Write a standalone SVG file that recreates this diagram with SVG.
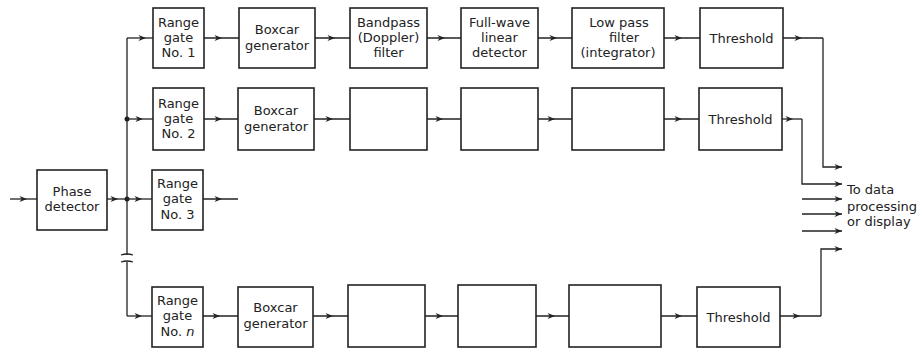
<svg xmlns="http://www.w3.org/2000/svg" width="917" height="349" viewBox="0 0 917 349">
<style>
.box{fill:#fff;stroke:#222;stroke-width:1.6}
.ln{fill:none;stroke:#222;stroke-width:1.3}
.mid{fill:none;stroke:#222;stroke-width:1.3;marker-mid:url(#ah)}
.end{fill:none;stroke:#222;stroke-width:1.3;marker-end:url(#ah)}
text{font-family:"DejaVu Sans","Liberation Sans",sans-serif;font-size:13px;fill:#222;text-anchor:middle}
text.r{text-anchor:start}
</style>
<defs>
<marker id="ah" viewBox="0 0 10 8" refX="10" refY="4" markerWidth="9" markerHeight="6" markerUnits="userSpaceOnUse" orient="auto">
<path d="M0,0 L10,4 L0,8 L3,4 Z" fill="#222"/>
</marker>
</defs>
<rect width="917" height="349" fill="#fff"/>

<g id="connectors">
<path class="ln" d="M127,38 V255 M127,262 V316"/>
<path class="ln" d="M121,255 Q127,253 133,255 M121,262 Q127,260 133,262"/>
<circle cx="127" cy="119" r="2.5" fill="#222"/>
<circle cx="127" cy="199" r="2.5" fill="#222"/>
<!-- row 1 -->
<path class="mid" d="M127,38 L146,38 L153,38"/>
<path class="mid" d="M204,38 L222,38 L239,38"/>
<path class="mid" d="M315,38 L335,38 L350,38"/>
<path class="mid" d="M427,38 L445,38 L461,38"/>
<path class="mid" d="M538,38 L557,38 L572,38"/>
<path class="mid" d="M664,38 L682,38 L700,38"/>
<path class="mid" d="M783,38 L802,38 L823,38"/>
<path class="end" d="M823,38 V167 H842"/>
<!-- row 2 -->
<path class="mid" d="M127,119 L143,119 L153,119"/>
<path class="mid" d="M204,119 L222,119 L238,119"/>
<path class="mid" d="M314,119 L333,119 L350,119"/>
<path class="mid" d="M427,119 L443,119 L461,119"/>
<path class="mid" d="M538,119 L555,119 L572,119"/>
<path class="mid" d="M664,119 L682,119 L699,119"/>
<path class="mid" d="M782,119 L793,119 L802,119"/>
<path class="end" d="M802,119 V184 H842"/>
<!-- row 3 -->
<path class="mid" d="M10,199 L27,199 L37,199"/>
<path class="mid" d="M107,199 L118,199 L127,199"/>
<path class="mid" d="M127,199 L142,199 L152,199"/>
<path class="mid" d="M203,199 L222,199 L238,199"/>
<!-- row n -->
<path class="mid" d="M127,316 L142,316 L152,316"/>
<path class="mid" d="M203,316 L220,316 L238,316"/>
<path class="mid" d="M313,316 L333,316 L348,316"/>
<path class="mid" d="M425,316 L443,316 L458,316"/>
<path class="mid" d="M536,316 L555,316 L569,316"/>
<path class="mid" d="M661,316 L682,316 L697,316"/>
<path class="mid" d="M780,316 L800,316 L821,316"/>
<path class="end" d="M821,316 V249 H842"/>
<!-- other outputs -->
<path class="end" d="M802,199 H842"/>
<path class="end" d="M802,214 H842"/>
<path class="end" d="M802,231 H842"/>
</g>

<g id="phase-detector">
<rect class="box" x="37" y="170" width="70" height="60"/>
<text x="72" y="196">Phase</text>
<text x="72" y="211">detector</text>
</g>

<g id="range-gate-1">
<rect class="box" x="153" y="8" width="51" height="60"/>
<text x="178.5" y="27">Range</text>
<text x="178.5" y="42">gate</text>
<text x="178.5" y="57">No. 1</text>
</g>
<g id="boxcar-1">
<rect class="box" x="239" y="8" width="76" height="60"/>
<text x="277" y="34">Boxcar</text>
<text x="277" y="50">generator</text>
</g>
<g id="bandpass-1">
<rect class="box" x="350" y="8" width="77" height="60"/>
<text x="388.5" y="27">Bandpass</text>
<text x="388.5" y="42">(Doppler)</text>
<text x="388.5" y="57">filter</text>
</g>
<g id="fullwave-1">
<rect class="box" x="461" y="8" width="77" height="60"/>
<text x="499.5" y="27">Full-wave</text>
<text x="499.5" y="42">linear</text>
<text x="499.5" y="57">detector</text>
</g>
<g id="lowpass-1">
<rect class="box" x="572" y="8" width="92" height="60"/>
<text x="619" y="27">Low pass</text>
<text x="624" y="42">filter</text>
<text x="618" y="57">(integrator)</text>
</g>
<g id="threshold-1">
<rect class="box" x="700" y="8" width="83" height="60"/>
<text x="741.5" y="43">Threshold</text>
</g>

<g id="range-gate-2">
<rect class="box" x="153" y="88" width="51" height="62"/>
<text x="178.5" y="108">Range</text>
<text x="178.5" y="123">gate</text>
<text x="178.5" y="138">No. 2</text>
</g>
<g id="boxcar-2">
<rect class="box" x="238" y="88" width="76" height="62"/>
<text x="276" y="115">Boxcar</text>
<text x="276" y="131">generator</text>
</g>
<g id="bandpass-2"><rect class="box" x="350" y="88" width="77" height="62"/></g>
<g id="fullwave-2"><rect class="box" x="461" y="88" width="77" height="62"/></g>
<g id="lowpass-2"><rect class="box" x="572" y="88" width="92" height="62"/></g>
<g id="threshold-2">
<rect class="box" x="699" y="88" width="83" height="62"/>
<text x="740.5" y="124">Threshold</text>
</g>

<g id="range-gate-3">
<rect class="box" x="152" y="170" width="51" height="60"/>
<text x="177.5" y="188">Range</text>
<text x="177.5" y="203">gate</text>
<text x="177.5" y="219">No. 3</text>
</g>

<g id="range-gate-n">
<rect class="box" x="152" y="287" width="51" height="60"/>
<text x="177.5" y="305">Range</text>
<text x="177.5" y="320">gate</text>
<text x="177.5" y="336">No. <tspan font-style="italic">n</tspan></text>
</g>
<g id="boxcar-n">
<rect class="box" x="238" y="287" width="75" height="60"/>
<text x="275.5" y="312">Boxcar</text>
<text x="275.5" y="328">generator</text>
</g>
<g id="bandpass-n"><rect class="box" x="348" y="285" width="77" height="62"/></g>
<g id="fullwave-n"><rect class="box" x="458" y="285" width="78" height="62"/></g>
<g id="lowpass-n"><rect class="box" x="569" y="285" width="92" height="62"/></g>
<g id="threshold-n">
<rect class="box" x="697" y="287" width="83" height="60"/>
<text x="738.5" y="322">Threshold</text>
</g>

<g id="output-label">
<text class="r" x="847" y="194">To data</text>
<text class="r" x="847" y="211">processing</text>
<text class="r" x="847" y="226">or display</text>
</g>
</svg>
